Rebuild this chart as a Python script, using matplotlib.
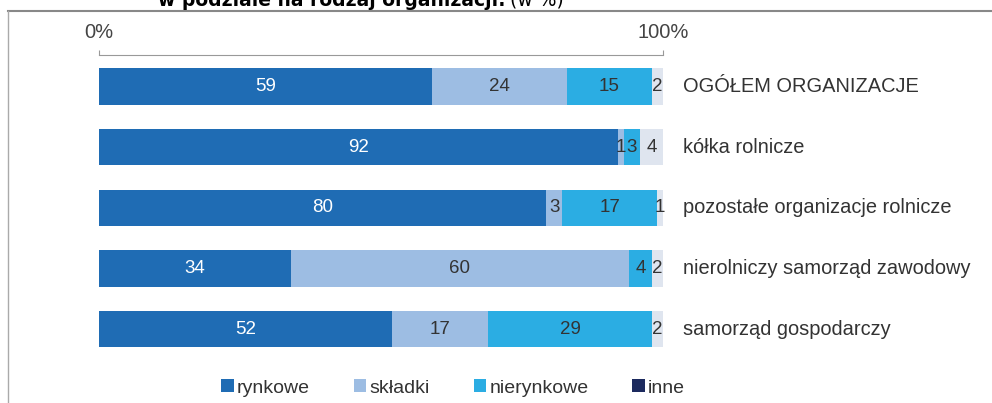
import numpy as np
import matplotlib.pyplot as plt
from matplotlib.lines import Line2D
from matplotlib.patches import Patch

plt.rcParams['font.family'] = ['Liberation Sans', 'DejaVu Sans']

kategorie = ['OGÓŁEM ORGANIZACJE', 'kółka rolnicze', 'pozostałe organizacje rolnicze',
             'nierolniczy samorząd zawodowy', 'samorząd gospodarczy']
rynkowe = [59, 92, 80, 34, 52]
skladki = [24, 1, 3, 60, 17]
nierynkowe = [15, 3, 17, 4, 29]
inne = [2, 4, 1, 2, 2]

serie = ['rynkowe', 'składki', 'nierynkowe', 'inne']
kolory = ['#1f6cb4', '#9dbde3', '#2bade3', '#dfe5ef']
kolory_leg = ['#1f6cb4', '#9dbde3', '#2bade3', '#1c2a5e']
kolor_tekstu = ['white', '#333333', '#333333', '#333333']

dane = np.array([rynkowe, skladki, nierynkowe, inne], dtype=float)
proc = dane / dane.sum(axis=0) * 100

W, H = 992, 403
fig = plt.figure(figsize=(W / 100, H / 100), dpi=100)
ax = fig.add_axes([99 / W, 1 - 360 / H, (663 - 99) / W, 305 / H])

y = np.arange(len(kategorie))
left = np.zeros(len(kategorie))
for i in range(4):
    ax.barh(y, proc[i], left=left, height=0.6, color=kolory[i], edgecolor='none')
    for j in range(len(kategorie)):
        ax.text(left[j] + proc[i][j] / 2, y[j], str(int(dane[i][j])), ha='center', va='center',
                fontsize=13.5, color=kolor_tekstu[i])
    left += proc[i]

for j, k in enumerate(kategorie):
    ax.text(103.5, y[j], k, ha='left', va='center', fontsize=14.4, color='#333333')

ax.set_xlim(0, 100)
ax.set_ylim(4.51, -0.52)
ax.set_yticks([])
ax.xaxis.tick_top()
ax.set_xticks([0, 100])
ax.set_xticklabels(['0%', '100%'], fontsize=14.5, color='#444444')
ax.tick_params(axis='x', direction='out', length=3.6, color='#999999', pad=6)
for s in ['bottom', 'left', 'right']:
    ax.spines[s].set_visible(False)
ax.spines['top'].set_color('#999999')

# legenda
uchwyty = [Patch(facecolor=c, edgecolor='none') for c in kolory_leg]
fig.legend(uchwyty, serie, loc='center', bbox_to_anchor=(453 / W, 1 - 388 / H), ncol=4,
           frameon=False, fontsize=14, handlelength=0.66, handleheight=0.66,
           handletextpad=0.15, columnspacing=2.25, labelcolor='#333333')

# ramka i ucięty tytuł
fig.add_artist(Line2D([8 / W, 1], [1 - 11 / H, 1 - 11 / H], color='#888888', lw=1.5))
fig.add_artist(Line2D([8 / W, 8 / W], [0, 1 - 11 / H], color='#aaaaaa', lw=1))
fig.text(158 / W, 1 - 6 / H, 'w podziale na rodzaj organizacji:', fontsize=13.5,
         fontweight='bold', family='DejaVu Sans', ha='left', va='baseline')
fig.text(510 / W, 1 - 6 / H, '(w %)', fontsize=13.5, family='DejaVu Sans',
         ha='left', va='baseline')

fig.savefig('out.png', dpi=100)
